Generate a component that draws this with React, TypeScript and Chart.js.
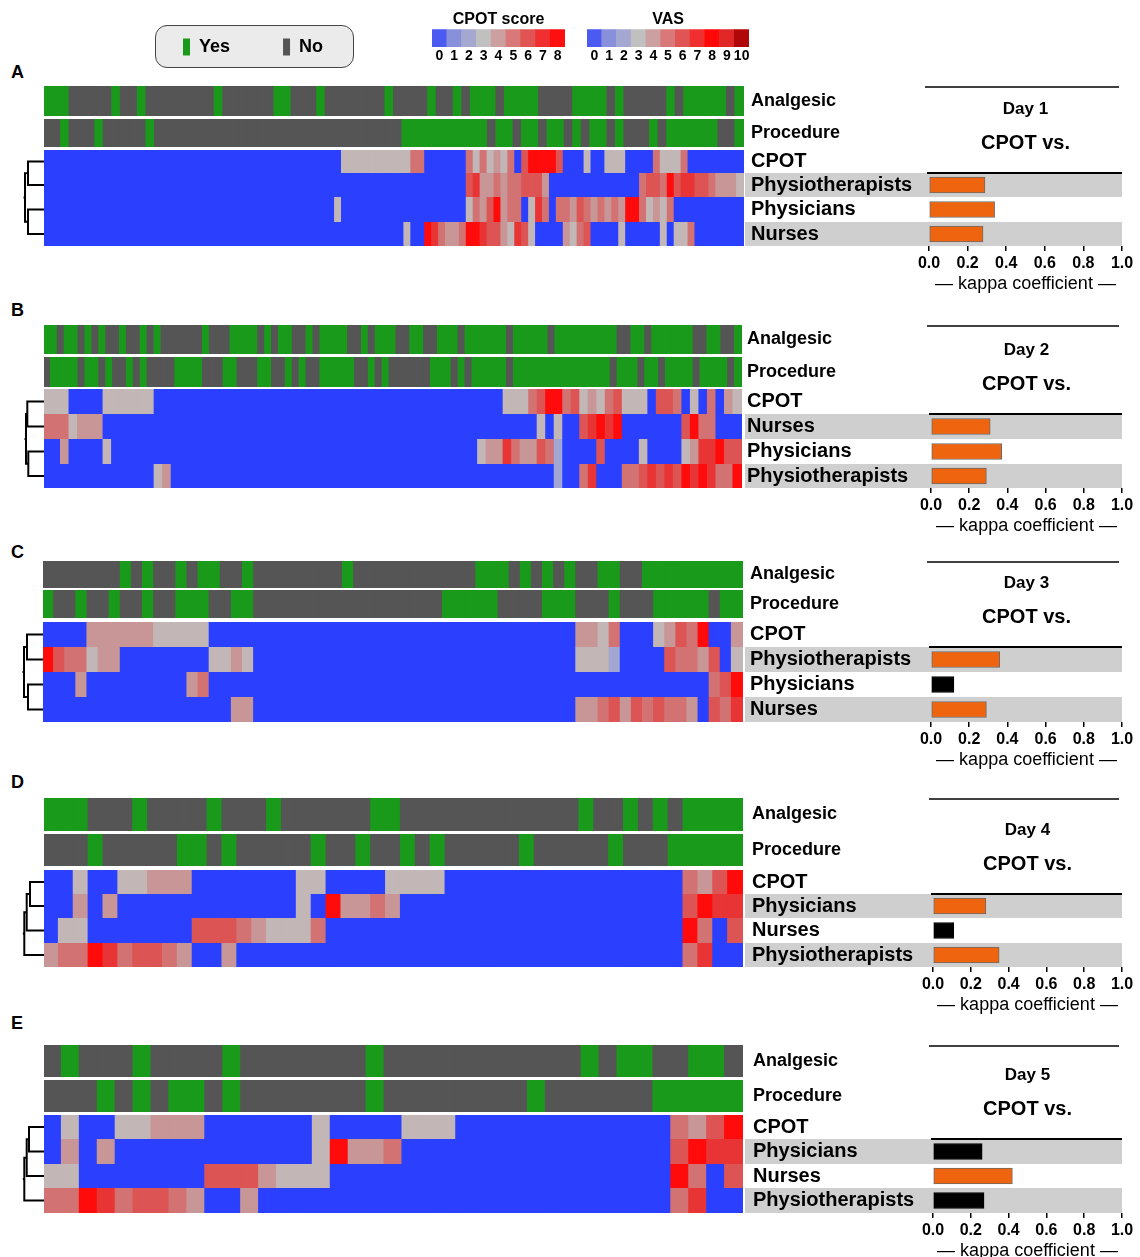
import React, { useEffect, useRef } from 'react';
import { Chart, registerables } from 'chart.js';

Chart.register(...registerables);
const FONT = "'Liberation Sans', Arial, Helvetica, sans-serif";
Chart.defaults.font.family = FONT;
Chart.defaults.color = '#000';

// ---------------- DATA ----------------
// 1 = Yes, 0 = No
const analgesicA = [1,1,1,0,0,0,0,0,1,0, 0,1,0,0,0,0,0,0,0,0, 1,0,0,0,0,0,0,1,1,0, 0,0,1,0,0,0,0,0,0,0, 1,0,0,0,0,1,0,0,1,0, 1,1,1,0,1,1,1,1,0,0, 0,0,1,1,1,1,0,1,0,0, 0,0,0,1,0,1,1,1,1,1, 0,1];
const procedureA = [0,0,1,0,0,0,1,0,0,0, 0,0,1,0,0,0,0,0,0,0, 0,0,0,0,0,0,0,0,0,0, 0,0,0,0,0,0,0,0,0,0, 0,0,1,1,1,1,1,1,1,1, 1,1,0,1,1,0,1,1,0,1, 1,0,1,0,1,1,0,1,0,0, 0,1,0,1,1,1,1,1,1,0, 0,1];
// scores (colour index 0..8)
const cpotA = [0,0,0,0,0,0,0,0,0,0, 0,0,0,0,0,0,0,0,0,0, 0,0,0,0,0,0,0,0,0,0, 0,0,0,0,0,0,0,0,0,0, 0,0,0,3,3,3,3,3,3,3, 3,3,3,5,5,0,0,0,0,0, 0,5,3,5,3,4,3,5,0,6, 8,8,8,8,6,0,0,0,3,0, 0,3,3,3,0,0,0,0,5,3, 3,3,5,0,0,0,0,0,0,0, 0];
const physioA = [0,0,0,0,0,0,0,0,0,0, 0,0,0,0,0,0,0,0,0,0, 0,0,0,0,0,0,0,0,0,0, 0,0,0,0,0,0,0,0,0,0, 0,0,0,0,0,0,0,0,0,0, 0,0,0,0,0,0,0,0,0,0, 0,6,7,4,4,5,4,5,5,6, 6,6,4,0,0,0,0,0,0,0, 0,0,0,0,0,0,5,6,6,5, 8,6,7,7,6,6,5,4,4,4, 3];
const physiciansA = [0,0,0,0,0,0,0,0,0,0, 0,0,0,0,0,0,0,0,0,0, 0,0,0,0,0,0,0,0,0,0, 0,0,0,0,0,0,0,0,0,0, 0,0,3,0,0,0,0,0,0,0, 0,0,0,0,0,0,0,0,0,0, 0,3,5,4,6,8,4,5,5,0, 3,7,5,0,5,5,4,6,5,4, 5,4,5,4,8,8,5,3,4,3, 5,0,0,0,0,0,0,0,0,0, 0];
const nursesA = [0,0,0,0,0,0,0,0,0,0, 0,0,0,0,0,0,0,0,0,0, 0,0,0,0,0,0,0,0,0,0, 0,0,0,0,0,0,0,0,0,0, 0,0,0,0,0,0,0,0,0,0, 0,0,3,0,0,8,7,5,4,4, 5,8,8,7,6,6,4,3,7,6, 3,0,0,0,0,4,3,5,6,0, 0,0,0,3,0,0,0,0,0,3, 0,3,3,5,0,0,0,0,0,0, 0];

const analgesicB = [1,1,0,1,1,0,1,0,1,0, 0,1,0,0,1,0,1,0,0,0, 0,0,0,1,0,0,0,1,1,1, 1,0,1,0,1,1,0,0,1,0, 1,1,1,1,0,0,1,0,1,1, 1,0,0,1,1,0,0,1,1,1, 0,1,1,1,1,1,1,0,1,1, 1,1,1,0,1,1,1,1,1,1, 1,1,1,0,0,1,1,0,1,1, 1,1,1,1,0,0,1,1,0,0, 1];
const procedureB = [0,1,1,1,1,0,1,1,0,1, 0,0,1,0,1,0,0,0,0,1, 1,1,1,0,0,0,1,1,0,0, 0,1,1,0,0,1,0,1,0,0, 1,1,1,1,1,0,0,1,0,1, 0,0,0,0,0,0,1,1,1,0, 1,0,1,1,1,1,1,0,1,1, 1,1,1,1,1,1,1,1,1,1, 1,1,0,1,1,1,0,1,1,0, 1,1,1,1,0,1,1,1,1,0, 1];
const cpotB = [3,3,3,0,0,0,0,3,3,3, 3,3,3,0,0,0,0,0,0,0, 0,0,0,0,0,0,0,0,0,0, 0,0,0,0,0,0,0,0,0,0, 0,0,0,0,0,0,0,0,0,0, 0,0,0,0,3,3,3,5,6,8, 8,5,6,3,4,3,5,6,3,3, 3,0,6,6,5,0,3,0,5,0, 4,3];
const nursesB = [5,5,5,3,4,4,4,0,0,0, 0,0,0,0,0,0,0,0,0,0, 0,0,0,0,0,0,0,0,0,0, 0,0,0,0,0,0,0,0,0,0, 0,0,0,0,0,0,0,0,0,0, 0,0,0,0,0,0,0,0,3,0, 3,0,0,6,7,8,7,8,0,0, 0,0,0,0,0,6,8,5,5,0, 0,0];
const physiciansB = [0,0,4,0,0,0,0,3,0,0, 0,0,0,0,0,0,0,0,0,0, 0,0,0,0,0,0,0,0,0,0, 0,0,0,0,0,0,0,0,0,0, 0,0,0,0,0,0,0,0,0,0, 0,3,4,4,7,5,4,4,6,5, 2,0,0,0,0,6,0,0,0,0, 3,0,0,0,0,3,4,7,7,8, 6,6];
const physioB = [0,0,0,0,0,0,0,0,0,0, 0,0,0,3,4,0,0,0,0,0, 0,0,0,0,0,0,0,0,0,0, 0,0,0,0,0,0,0,0,0,0, 0,0,0,0,0,0,0,0,0,0, 0,0,0,0,0,0,0,0,0,0, 2,0,0,5,7,0,0,0,5,5, 6,7,6,7,6,8,7,8,7,5, 5,8];

const analgesicC = [0,0,0,0,0,0,0,1,0,1, 0,0,1,0,1,1,0,0,1,0, 0,0,0,0,0,0,0,1,0,0, 0,0,0,0,0,0,0,0,0,1, 1,1,0,1,0,1,0,1,0,0, 1,1,0,0,1,1,1,1,1,1, 1,1,1];
const procedureC = [1,0,0,1,0,0,1,0,0,1, 0,0,1,1,1,0,0,1,1,0, 0,0,0,0,0,0,0,0,0,0, 0,0,0,0,0,0,1,1,1,1, 1,0,0,0,0,1,1,1,0,0, 0,1,0,0,0,1,1,1,1,1, 0,1,1];
const cpotC = [0,0,0,0,4,4,4,4,4,4, 3,3,3,3,3,0,0,0,0,0, 0,0,0,0,0,0,0,0,0,0, 0,0,0,0,0,0,0,0,0,0, 0,0,0,0,0,0,0,0,4,4, 3,5,0,0,0,3,4,6,5,8, 0,0,4];
const physioC = [8,6,5,5,3,4,4,0,0,0, 0,0,0,0,0,3,3,4,3,0, 0,0,0,0,0,0,0,0,0,0, 0,0,0,0,0,0,0,0,0,0, 0,0,0,0,0,0,0,0,3,3, 3,2,0,0,0,0,6,5,5,4, 6,0,3];
const physiciansC = [0,0,0,4,0,0,0,0,0,0, 0,0,0,4,5,0,0,0,0,0, 0,0,0,0,0,0,0,0,0,0, 0,0,0,0,0,0,0,0,0,0, 0,0,0,0,0,0,0,0,0,0, 0,0,0,0,0,0,0,0,0,0, 5,6,8];
const nursesC = [0,0,0,0,0,0,0,0,0,0, 0,0,0,0,0,0,0,4,4,0, 0,0,0,0,0,0,0,0,0,0, 0,0,0,0,0,0,0,0,0,0, 0,0,0,0,0,0,0,0,4,4, 5,6,4,6,5,6,5,5,4,0, 6,5,7];

const analgesicD = [1,1,1,0,0,0,1,0,0,0, 0,1,0,0,0,1,0,0,0,0, 0,0,1,1,0,0,0,0,0,0, 0,0,0,0,0,0,1,0,0,1, 0,1,0,1,1,1,1];
const procedureD = [0,0,0,1,0,0,0,0,0,1, 1,0,1,0,0,0,0,0,1,0, 0,1,0,0,1,0,1,0,0,0, 0,0,1,0,0,0,0,0,1,0, 0,0,1,1,1,1,1];
const cpotD = [0,0,3,0,0,3,3,4,4,4, 0,0,0,0,0,0,0,3,3,0, 0,0,0,3,3,3,3,0,0,0, 0,0,0,0,0,0,0,0,0,0, 0,0,0,5,4,6,8];
const physiciansD = [0,0,4,0,4,0,0,0,0,0, 0,0,0,0,0,0,0,3,0,8, 4,4,5,4,0,0,0,0,0,0, 0,0,0,0,0,0,0,0,0,0, 0,0,0,6,8,7,7];
const nursesD = [0,3,3,0,0,0,0,0,0,0, 6,6,6,5,4,3,3,3,5,0, 0,0,0,0,0,0,0,0,0,0, 0,0,0,0,0,0,0,0,0,0, 0,0,0,8,5,0,6];
const physioD = [4,5,5,8,7,5,6,6,5,4, 0,0,4,0,0,0,0,0,0,0, 0,0,0,0,0,0,0,0,0,0, 0,0,0,0,0,0,0,0,0,0, 0,0,0,5,7,0,0];

const analgesicE = [0,1,0,0,0,1,0,0,0,0, 1,0,0,0,0,0,0,0,1,0, 0,0,0,0,0,0,0,0,0,0, 1,0,1,1,0,0,1,1,0];
const procedureE = [0,0,0,1,0,1,0,1,1,0, 1,0,0,0,0,0,0,0,1,0, 0,0,0,0,0,0,0,1,0,0, 0,0,0,0,1,1,1,1,1];
const cpotE = [0,3,0,0,3,3,4,4,4,0, 0,0,0,0,0,3,0,0,0,0, 3,3,3,0,0,0,0,0,0,0, 0,0,0,0,0,5,4,6,8];
const physiciansE = [0,4,0,4,0,0,0,0,0,0, 0,0,0,0,0,3,8,4,4,5, 0,0,0,0,0,0,0,0,0,0, 0,0,0,0,0,6,8,7,7];
const nursesE = [3,3,0,0,0,0,0,0,0,6, 6,6,4,3,3,3,0,0,0,0, 0,0,0,0,0,0,0,0,0,0, 0,0,0,0,0,8,5,0,6];
const physioE = [5,5,8,7,5,6,6,5,4,0, 0,4,0,0,0,0,0,0,0,0, 0,0,0,0,0,0,0,0,0,0, 0,0,0,0,0,5,7,0,0];

// row names (top to bottom, after clustering)
const annotationNames = ['Analgesic', 'Procedure'];
const rowNamesA = ['CPOT', 'Physiotherapists', 'Physicians', 'Nurses'];
const rowNamesB = ['CPOT', 'Nurses', 'Physicians', 'Physiotherapists'];
const rowNamesC = ['CPOT', 'Physiotherapists', 'Physicians', 'Nurses'];
const rowNamesD = ['CPOT', 'Physicians', 'Nurses', 'Physiotherapists'];
const rowNamesE = ['CPOT', 'Physicians', 'Nurses', 'Physiotherapists'];

// kappa coefficient (CPOT vs. rater), in rater row order
const kappaA = [0.29, 0.34, 0.28];
const kappaB = [0.31, 0.37, 0.29];
const kappaC = [0.36, 0.12, 0.29];
const kappaD = [0.28, 0.11, 0.35];
const kappaE = [0.26, 0.42, 0.27];
const significantA = [true, true, true];
const significantB = [true, true, true];
const significantC = [true, false, true];
const significantD = [true, false, true];
const significantE = [false, true, false];

// dendrogram merges: [childA, childB, height]; leaves 0..3, merges numbered from 4
const dendroA = [[0, 1, 16], [2, 3, 16], [4, 5, 19]];
const dendroB = [[0, 1, 16.7], [2, 3, 15.7], [4, 5, 18]];
const dendroC = [[0, 1, 16], [2, 3, 15], [4, 5, 19]];
const dendroD = [[0, 1, 14], [4, 2, 17.3], [5, 3, 19.7]];
const dendroE = [[0, 1, 15], [4, 2, 17.3], [5, 3, 19.7]];

const days = ['Day 1', 'Day 2', 'Day 3', 'Day 4', 'Day 5'];
const comparisonTitle = 'CPOT vs.';
const kappaAxisTitle = '— kappa coefficient —';
const cpotLegendLabels = ['0', '1', '2', '3', '4', '5', '6', '7', '8'];
const vasLegendLabels = ['0', '1', '2', '3', '4', '5', '6', '7', '8', '9', '10'];
const yesNoLabels = ['Yes', 'No'];

// ---------------- STYLE ----------------
const GREEN = '#1a9a1a';
const NO_GRAY = '#555555';
const HEAT = ['#2b40ff', '#8890dc', '#a2a6d2', '#c2b6b6', '#c89696', '#d27272', '#dc5454', '#e83434', '#ff0b0b'];
const CPOT_LEGEND = ['#4b5af0', '#8890dc', '#a4a8d0', '#c0c0c0', '#cca0a0', '#d87878', '#e05454', '#f03030', '#ff1010'];
const VAS_LEGEND = ['#4b5af0', '#8890dc', '#a4a8d0', '#c0c0c0', '#cca0a0', '#d87878', '#e05454', '#f03030', '#ff0808', '#e02828', '#b00808'];
const ORANGE = '#ef650f';
const BAND = '#cfcfcf';
const CELL_INFLATE = 1;

const PANELS: any[] = [
  { letter: 'A', letterTop: 62, day: days[0], top: 86, hmLeft: 44, hmWidth: 700,
    rows: [[0, 30], [33, 61], [64, 87], [87, 111], [111, 136], [136, 160]],
    ann: [analgesicA, procedureA], scores: [cpotA, physioA, physiciansA, nursesA], names: rowNamesA,
    kappa: kappaA, sig: significantA, dendro: dendroA, labelPad: 6, axisW: 178 },
  { letter: 'B', letterTop: 300, day: days[1], top: 325, hmLeft: 44, hmWidth: 698,
    rows: [[0, 29], [32, 62], [64, 89], [89, 114], [114, 139], [139, 163]],
    ann: [analgesicB, procedureB], scores: [cpotB, nursesB, physiciansB, physioB], names: rowNamesB,
    kappa: kappaB, sig: significantB, dendro: dendroB, labelPad: 2, axisW: 184 },
  { letter: 'C', letterTop: 542, day: days[2], top: 561, hmLeft: 43, hmWidth: 700,
    rows: [[0, 27], [29, 57], [61, 86], [86, 111], [111, 136], [136, 161]],
    ann: [analgesicC, procedureC], scores: [cpotC, physioC, physiciansC, nursesC], names: rowNamesC,
    kappa: kappaC, sig: significantC, dendro: dendroC, labelPad: 5, axisW: 181 },
  { letter: 'D', letterTop: 772, day: days[3], top: 798, hmLeft: 44, hmWidth: 699,
    rows: [[0, 33], [36, 68], [72, 96], [96, 120], [120, 145], [145, 169]],
    ann: [analgesicD, procedureD], scores: [cpotD, physiciansD, nursesD, physioD], names: rowNamesD,
    kappa: kappaD, sig: significantD, dendro: dendroD, labelPad: 7, axisW: 181 },
  { letter: 'E', letterTop: 1013, day: days[4], top: 1045, hmLeft: 44, hmWidth: 699,
    rows: [[0, 32], [35, 67], [70, 94], [94, 119], [119, 143], [143, 168]],
    ann: [analgesicE, procedureE], scores: [cpotE, physiciansE, nursesE, physioE], names: rowNamesE,
    kappa: kappaE, sig: significantE, dendro: dendroE, labelPad: 8, axisW: 180 },
];

const noPad = (s: any) => { s.paddingTop = 0; s.paddingBottom = 0; s.paddingLeft = 0; s.paddingRight = 0; };
const baseOpts = { responsive: false, animation: false as const, devicePixelRatio: 1 };

// ---------------- COMPONENTS ----------------
function Heatmap({ p }: { p: any }) {
  const ref = useRef<HTMLCanvasElement>(null);
  const H = p.rows[5][1];
  useEffect(() => {
    const common = { grouped: false, barPercentage: 1, categoryPercentage: 1, borderWidth: 0, inflateAmount: CELL_INFLATE };
    // cells are inflated by CELL_INFLATE px when drawn, so the row span is shrunk by the same amount
    const span = (r: number) => [p.rows[r][0] + CELL_INFLATE, p.rows[r][1] - CELL_INFLATE];
    const datasets: any[] = [];
    p.ann.forEach((row: number[], r: number) => datasets.push({
      ...common, xAxisID: 'xa',
      data: row.map(() => span(r)),
      backgroundColor: row.map((v) => (v ? GREEN : NO_GRAY)),
    }));
    p.scores.forEach((row: number[], r: number) => datasets.push({
      ...common, xAxisID: 'xs',
      data: row.map(() => span(r + 2)),
      backgroundColor: row.map((v) => HEAT[v]),
    }));
    const chart = new Chart(ref.current as HTMLCanvasElement, {
      type: 'bar',
      data: { datasets },
      options: {
        ...baseOpts,
        layout: { padding: 0 },
        scales: {
          xa: { type: 'category', labels: p.ann[0].map((_: any, i: number) => String(i + 1)), display: false, offset: true },
          xs: { type: 'category', labels: p.scores[0].map((_: any, i: number) => String(i + 1)), display: false, offset: true },
          y: { type: 'linear', min: 0, max: H, reverse: true, display: false },
        },
        plugins: { legend: { display: false }, tooltip: { enabled: false } },
      } as any,
    });
    return () => chart.destroy();
  }, []);
  return <canvas ref={ref} width={p.hmWidth} height={H} style={{ position: 'absolute', left: p.hmLeft, top: p.top }} />;
}

function Dendrogram({ p }: { p: any }) {
  const ref = useRef<HTMLCanvasElement>(null);
  const H = p.rows[5][1];
  const W = p.hmLeft - 8;
  useEffect(() => {
    const line = { showLine: true, borderColor: '#000', borderWidth: 2, pointRadius: 0, tension: 0, clip: false };
    const nodes: any[] = [2, 3, 4, 5].map((r) => ({ y: (p.rows[r][0] + p.rows[r][1]) / 2, h: 0 }));
    const datasets: any[] = [];
    p.dendro.forEach(([a, b, h]: number[]) => {
      const A = nodes[a];
      const B = nodes[b];
      datasets.push({ ...line, data: [{ x: A.h, y: A.y }, { x: h, y: A.y }, { x: h, y: B.y }, { x: B.h, y: B.y }] });
      nodes.push({ y: (A.y + B.y) / 2, h });
    });
    const root = nodes[nodes.length - 1];
    datasets.push({ ...line, data: [{ x: root.h, y: root.y }, { x: root.h + 1.5, y: root.y }] });
    const chart = new Chart(ref.current as HTMLCanvasElement, {
      type: 'scatter',
      data: { datasets },
      options: {
        ...baseOpts,
        layout: { padding: 0 },
        scales: {
          x: { type: 'linear', min: 0, max: W, reverse: true, display: false },
          y: { type: 'linear', min: 0, max: H, reverse: true, display: false },
        },
        plugins: { legend: { display: false }, tooltip: { enabled: false } },
      } as any,
    });
    return () => chart.destroy();
  }, []);
  return <canvas ref={ref} width={W} height={H} style={{ position: 'absolute', left: 8, top: p.top }} />;
}

function KappaChart({ p }: { p: any }) {
  const ref = useRef<HTMLCanvasElement>(null);
  const H = p.rows[5][1];
  const LEFT = 745;
  const WIDTH = 395;
  const AXIS_H = 53;
  const CANVAS_H = H + 60;
  useEffect(() => {
    const centers = p.rows.map((r: number[]) => (r[0] + r[1]) / 2);
    const labels = [...annotationNames, ...p.names];
    const cpotBottom = p.rows[2][1];
    const bands = [p.rows[3], p.rows[5]];
    const bandPlugin = {
      id: 'rowBands',
      beforeDraw(chart: any) {
        const { ctx, chartArea, scales } = chart;
        ctx.save();
        ctx.fillStyle = BAND;
        bands.forEach(([a, b]: number[]) => {
          const y0 = scales.y.getPixelForValue(a);
          const y1 = scales.y.getPixelForValue(b);
          ctx.fillRect(0, y0, chartArea.right, y1 - y0);
        });
        ctx.restore();
      },
    };
    const headerPlugin = {
      id: 'dayHeader',
      afterDraw(chart: any) {
        const { ctx, chartArea, scales } = chart;
        const yTop = scales.y.getPixelForValue(0);
        const yLine = scales.y.getPixelForValue(cpotBottom);
        const cx = (chartArea.left + chartArea.right) / 2;
        ctx.save();
        ctx.strokeStyle = '#000';
        ctx.lineWidth = 1.5;
        ctx.beginPath();
        ctx.moveTo(chartArea.left - 4, yTop + 1);
        ctx.lineTo(chartArea.right - 3, yTop + 1);
        ctx.stroke();
        ctx.lineWidth = 2;
        ctx.beginPath();
        ctx.moveTo(chartArea.left - 2, yLine);
        ctx.lineTo(chartArea.right, yLine);
        ctx.stroke();
        ctx.fillStyle = '#000';
        ctx.textAlign = 'center';
        ctx.textBaseline = 'middle';
        ctx.font = `bold 17px ${FONT}`;
        ctx.fillText(p.day, cx, yLine - 64);
        ctx.font = `bold 20px ${FONT}`;
        ctx.fillText(comparisonTitle, cx, yLine - 30);
        ctx.restore();
      },
    };
    const chart = new Chart(ref.current as HTMLCanvasElement, {
      type: 'bar',
      data: {
        datasets: [{
          data: p.kappa.map((k: number, i: number) => ({ x: k, y: centers[i + 3] })),
          backgroundColor: p.sig.map((s: boolean) => (s ? ORANGE : '#000')),
          borderColor: p.sig.map((s: boolean) => (s ? '#6a6a6a' : '#000')),
          borderWidth: 1,
          borderSkipped: false,
          barThickness: 16,
        }],
      },
      options: {
        ...baseOpts,
        indexAxis: 'y',
        layout: { padding: { left: p.labelPad, right: 18, top: 0, bottom: CANVAS_H - H - AXIS_H } },
        scales: {
          y: {
            type: 'linear', min: 0, max: H, reverse: true, offset: false,
            afterBuildTicks: (s: any) => { s.ticks = centers.map((v: number) => ({ value: v })); },
            afterFit: (s: any) => { s.width = p.axisW; noPad(s); },
            ticks: {
              autoSkip: false, crossAlign: 'far', color: '#000',
              callback: (_v: any, i: number) => labels[i],
              font: (ctx: any) => ({ size: ctx.index < 2 ? 18 : 20, weight: 'bold', family: FONT }),
            },
            grid: { display: false },
            border: { display: false },
          },
          x: {
            type: 'linear', min: 0, max: 1,
            afterFit: (s: any) => { s.height = AXIS_H; noPad(s); },
            ticks: { stepSize: 0.2, callback: (v: any) => Number(v).toFixed(1), font: { size: 16, weight: 'bold' }, color: '#000', padding: 3, maxRotation: 0, autoSkip: false },
            grid: { display: true, drawOnChartArea: false, drawTicks: true, tickLength: 5, color: '#000', lineWidth: 1.5 },
            border: { display: false },
            title: { display: true, text: kappaAxisTitle, font: { size: 18 }, color: '#000', padding: { top: 0, bottom: 4 } },
          },
        },
        plugins: { legend: { display: false }, tooltip: { enabled: false } },
      } as any,
      plugins: [bandPlugin, headerPlugin],
    });
    return () => chart.destroy();
  }, []);
  return <canvas ref={ref} width={WIDTH} height={CANVAS_H} style={{ position: 'absolute', left: LEFT, top: p.top }} />;
}

function ColorLegend({ title, labels, colors, left, width }: any) {
  const ref = useRef<HTMLCanvasElement>(null);
  useEffect(() => {
    const chart = new Chart(ref.current as HTMLCanvasElement, {
      type: 'bar',
      data: { labels, datasets: [{ data: labels.map(() => 1), backgroundColor: colors, barPercentage: 1, categoryPercentage: 1, borderWidth: 0 }] },
      options: {
        ...baseOpts,
        layout: { padding: 0 },
        scales: {
          x: {
            afterFit: (s: any) => { s.height = 18; noPad(s); },
            grid: { display: false, drawTicks: false }, border: { display: false },
            ticks: { font: { size: 14, weight: 'bold' }, color: '#000', padding: 1, maxRotation: 0, autoSkip: false },
          },
          y: { display: false, min: 0, max: 1 },
        },
        plugins: {
          legend: { display: false }, tooltip: { enabled: false },
          title: { display: true, text: title, font: { size: 16, weight: 'bold' }, color: '#000', padding: { top: 2, bottom: 0 } },
        },
      } as any,
    });
    return () => chart.destroy();
  }, []);
  return <canvas ref={ref} width={width} height={57} style={{ position: 'absolute', left, top: 8 }} />;
}

function YesNoLegend() {
  const ref = useRef<HTMLCanvasElement>(null);
  useEffect(() => {
    const chart = new Chart(ref.current as HTMLCanvasElement, {
      type: 'bar',
      data: {
        labels: [],
        datasets: [
          { label: yesNoLabels[0], data: [], backgroundColor: GREEN, borderWidth: 0 },
          { label: yesNoLabels[1], data: [], backgroundColor: NO_GRAY, borderWidth: 0 },
        ],
      },
      options: {
        ...baseOpts,
        layout: { padding: 0 },
        scales: { x: { display: false }, y: { display: false } },
        plugins: {
          tooltip: { enabled: false },
          legend: { display: true, position: 'top', align: 'start', labels: { boxWidth: 7, boxHeight: 17, padding: 53, font: { size: 18, weight: 'bold' }, color: '#000' } },
        },
      } as any,
    });
    return () => chart.destroy();
  }, []);
  return <canvas ref={ref} width={260} height={180} style={{ position: 'absolute', left: 130, top: -15 }} />;
}

export default function App() {
  return (
    <div style={{ position: 'absolute', left: 0, top: 0, width: 1140, height: 1257, background: '#fff', overflow: 'hidden', fontFamily: FONT }}>
      <div style={{ position: 'absolute', left: 155, top: 25, width: 199, height: 43, boxSizing: 'border-box', border: '1px solid #444', borderRadius: 12, background: '#ebebeb' }} />
      <YesNoLegend />
      <ColorLegend title="CPOT score" labels={cpotLegendLabels} colors={CPOT_LEGEND} left={432} width={133} />
      <ColorLegend title="VAS" labels={vasLegendLabels} colors={VAS_LEGEND} left={587} width={162} />
      {PANELS.map((p) => (
        <React.Fragment key={p.letter}>
          <div style={{ position: 'absolute', left: 11, top: p.letterTop, fontSize: 18, fontWeight: 'bold', lineHeight: '20px' }}>{p.letter}</div>
          <Dendrogram p={p} />
          <Heatmap p={p} />
          <KappaChart p={p} />
        </React.Fragment>
      ))}
    </div>
  );
}
